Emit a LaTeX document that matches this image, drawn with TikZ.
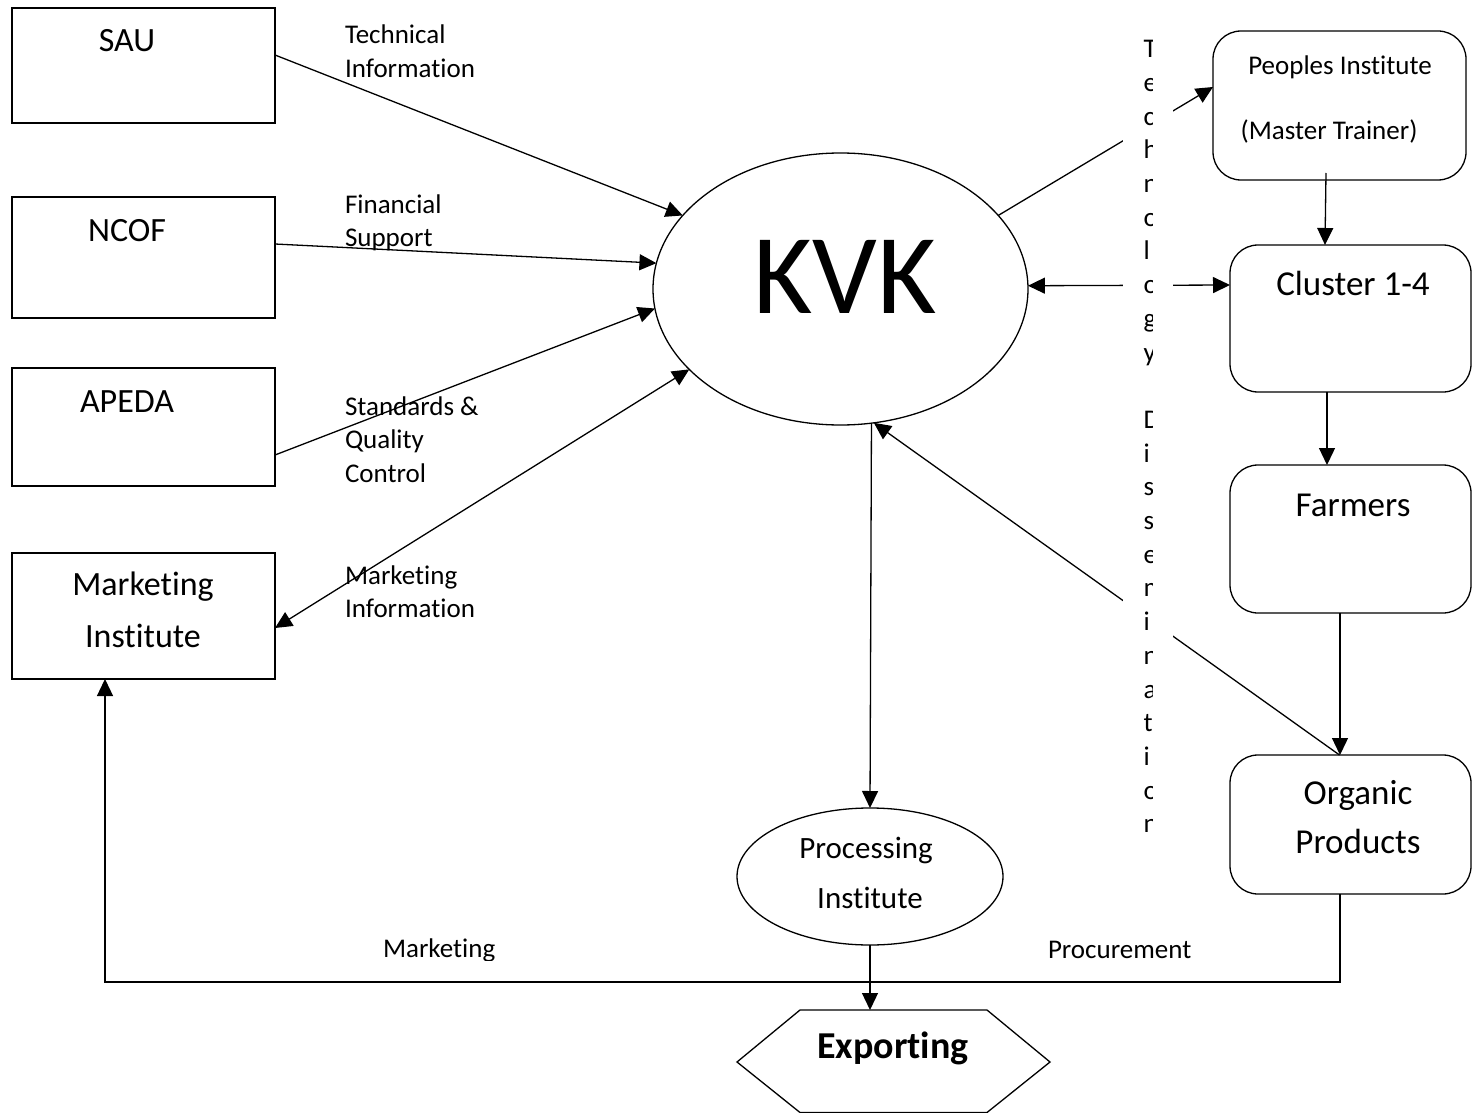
\documentclass[tikz,border=0pt]{standalone}
\usepackage{fontspec}
\setmainfont{Carlito}[Ligatures={NoCommon},RawFeature={-calt;-liga;-clig}]
\usetikzlibrary{arrows.meta,shapes.geometric}
\begin{document}
\begin{tikzpicture}[x=1pt,y=-1pt,
  every node/.style={inner sep=0pt,outer sep=0pt},
  >={Triangle[length=17pt,width=16pt]},
  sqbox/.style={draw,line width=1.3pt,rectangle,minimum width=263pt},
  rbox/.style={draw,line width=1.3pt,rectangle,rounded corners=28pt},
  oval/.style={draw,line width=1.3pt,ellipse},
  lbl/.style={anchor=base west,font=\fontsize{27}{33}\selectfont},
  small/.style={anchor=base,font=\fontsize{27}{33}\selectfont},
  boxtxt/.style={anchor=base,font=\fontsize{34}{40}\selectfont},
  conn/.style={line width=1.3pt},
  letter/.style={anchor=base west,font=\fontsize{27}{33}\selectfont}
]
\useasboundingbox (0,0) rectangle (1473,1113);

% left boxes
\node[sqbox,minimum height=115pt] (sau) at (143.5,65.5) {};
\node[sqbox,minimum height=121pt] (ncof) at (143.5,257.5) {};
\node[sqbox,minimum height=118pt] (apeda) at (143.5,427) {};
\node[sqbox,minimum height=126pt] (mkt) at (143.5,616) {};
\node[boxtxt] (sauT) at (127,52) {SAU};
\node[boxtxt] (ncofT) at (127,241) {NCOF};
\node[boxtxt] (apedaT) at (127,412) {APEDA};
\node[boxtxt] (mktT1) at (143,595) {Marketing};
\node[boxtxt] (mktT2) at (143,647) {Institute};

% KVK
\node[oval,minimum width=375pt,minimum height=272pt] (kvk) at (840.5,289) {};
\node[anchor=base,font=\fontsize{114}{120}\selectfont] (kvkT) at (845,313) {KVK};

% right boxes
\node[rbox,minimum width=253pt,minimum height=149pt] (peo) at (1339.5,105.5) {};
\node[rbox,minimum width=241pt,minimum height=147pt] (clu) at (1350.5,318.5) {};
\node[rbox,minimum width=241pt,minimum height=148pt] (far) at (1350.5,539) {};
\node[rbox,minimum width=241pt,minimum height=139pt] (org) at (1350.5,824.5) {};
\node[small] (peoT1) at (1340,75) {Peoples Institute};
\node[small] (peoT2) at (1329,140) {(Master Trainer)};
\node[boxtxt,font=\fontsize{35}{40}\selectfont] (cluT) at (1353,295) {Cluster 1-4};
\node[boxtxt,font=\fontsize{35}{40}\selectfont] (farT) at (1353,516) {Farmers};
\node[boxtxt,font=\fontsize{35}{40}\selectfont] (orgT1) at (1358,804) {Organic};
\node[boxtxt,font=\fontsize{35}{40}\selectfont] (orgT2) at (1358,853) {Products};

% processing
\node[oval,minimum width=266pt,minimum height=137pt] (proc) at (870,876.5) {};
\node[anchor=base,font=\fontsize{31}{36}\selectfont] (procT1) at (866,858) {Processing};
\node[anchor=base,font=\fontsize{31}{36}\selectfont] (procT2) at (870,908) {Institute};

% exporting hexagon
\draw[line width=1.3pt] (800,1010) -- (987,1010) -- (1050,1062) -- (987,1112.5) -- (800,1112.5) -- (737,1062) -- cycle;
\coordinate (exptop) at (870,1010);
\node[anchor=base,font=\fontsize{38}{44}\selectfont\bfseries] (expT) at (893,1058) {Exporting};

% left labels
\node[lbl] (l1a) at (345,44) {Technical};
\node[lbl] (l1b) at (345,78) {Information};
\node[lbl] (l2a) at (345,213) {Financial};
\node[lbl] (l2b) at (345,246) {Support};
\node[lbl] (l3a) at (345,415) {Standards \&};
\node[lbl] (l3b) at (345,448) {Quality};
\node[lbl] (l3c) at (345,482) {Control};
\node[lbl] (l4a) at (345,584) {Marketing};
\node[lbl] (l4b) at (345,617) {Information};
\begin{scope}
\clip (370,900) rectangle (520,960);
\node[lbl] (l5) at (383,957) {Marketing};
\end{scope}
\node[lbl] (l6) at (1048,958) {Procurement};

% connectors
\draw[conn,->] ([yshift=10.5pt]sau.east) -- (kvk.155);
\draw[conn,->] ([yshift=13.5pt]ncof.east) -- (kvk.172);
\draw[conn,->] ([yshift=-28pt]apeda.east) -- (kvk.186);
\draw[conn,<->] ([yshift=-12pt]mkt.east) -- (kvk.208);
\draw[conn,->] (kvk.25.5) -- ([yshift=18.5pt]peo.west);
\draw[conn,<->] (kvk.1.3) -- ([yshift=33.5pt]clu.west);
\draw[conn,->] ([xshift=-13.5pt,yshift=7pt]peo.south) -- ([xshift=-25.5pt]clu.north);
\draw[conn,->] ([xshift=-23.5pt]clu.south) -- ([xshift=-23.5pt]far.north);
\draw[conn,->] ([xshift=-10.5pt]far.south) -- ([xshift=-10.5pt]org.north);
\draw[conn,->] ([xshift=-11pt]org.north) -- (kvk.284.5);
\draw[conn,->] (kvk.283) -- (proc.north);
\draw[conn,->] (proc.south) -- (exptop);
\coordinate (bl) at (600,982);
\draw[conn,->] ([xshift=-10.5pt]org.south) |- (bl) -| ([xshift=-38.5pt]mkt.south);

% vertical text column (white text box)
\node[fill=white,minimum width=50pt,minimum height=820pt] (vcol) at (1148,438) {};
\begin{scope}
\clip (1100,20) rectangle (1152,860);
\foreach \ch [count=\i from 0] in {T,e,c,h,n,o,l,o,g,y}
  \node[letter] (ta\i) at (1143.5,{57.7+33.7*\i}) {\ch};
\foreach \ch [count=\i from 11] in {D,i,s,s,e,m,i,n,a,t,i,o,n}
  \node[letter] (tb\i) at (1143.5,{57.7+33.7*\i}) {\ch};
\end{scope}
\end{tikzpicture}
\end{document}
